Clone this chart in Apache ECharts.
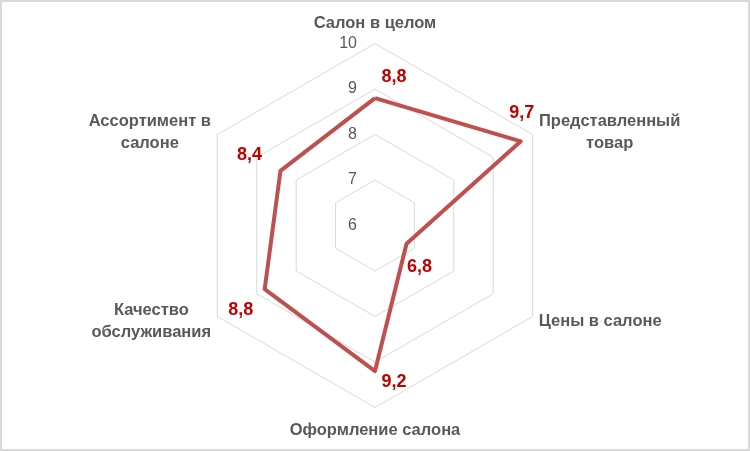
<!DOCTYPE html>
<html>
<head>
<meta charset="utf-8">
<script src="https://cdn.jsdelivr.net/npm/echarts@6/dist/echarts.min.js"></script>
<style>
  html, body { margin: 0; padding: 0; background: #fff; }
  #frame { width: 750px; height: 451px; box-sizing: border-box; border: 2px solid #d9d9d9; background: #fff; }
  #chart { width: 746px; height: 447px; }
</style>
</head>
<body>
<div id="frame"><div id="chart"></div></div>
<script>
// Categories in clockwise order starting from the top (as in the picture)
const categories = [
  'Салон в целом',
  'Представленный\nтовар',
  'Цены в салоне',
  'Оформление салона',
  'Качество\nобслуживания',
  'Ассортимент в\nсалоне'
];
const values = [8.8, 9.7, 6.8, 9.2, 8.8, 8.4];
const axisMin = 6;
const axisMax = 10;
const tickLabels = ['6', '7', '8', '9', '10'];

// Label offsets (px) for the value labels, clockwise from top
const labelOffsets = [[19, -21], [1, -28], [13, 23], [19, 11], [-24, 21], [-31, -16]];

// ECharts places indicators counter-clockwise; reorder to get a clockwise layout
const order = [0, 5, 4, 3, 2, 1];
const ecCategories = order.map(i => categories[i]);
const ecValues = order.map(i => values[i]);
const ecOffsets = order.map(i => labelOffsets[i]);

const nameSize = 16.5;
const nameFont = 'bold ' + nameSize + 'px "Liberation Sans", Arial, sans-serif';
const ctx = document.createElement('canvas').getContext('2d');
ctx.font = nameFont;
const rich = {};
ecCategories.forEach((c, i) => {
  const w = Math.max(...c.split('\n').map(l => ctx.measureText(l).width));
  rich['n' + i] = { width: Math.ceil(w), align: 'center', fontFamily: '"Liberation Sans", Arial, sans-serif', fontWeight: 'bold', fontSize: nameSize, color: '#595959', lineHeight: 22 };
});

const chart = echarts.init(document.getElementById('chart'), null, { renderer: 'canvas' });
const radius = 182;

const option = {
  animation: false,
  radar: {
    center: ['50%', '50%'],
    radius: radius,
    startAngle: 90,
    splitNumber: 4,
    shape: 'polygon',
    nameGap: 7,
    axisName: {
      color: '#595959',
      fontFamily: '"Liberation Sans", Arial, sans-serif',
      fontWeight: 'bold',
      fontSize: nameSize,
      padding: [5, 0, 2, 0],
      formatter: function (name) {
        const idx = ecCategories.indexOf(name);
        return name.split('\n').map(l => '{n' + idx + '|' + l + '}').join('\n');
      },
      rich: rich
    },
    axisLine: { show: false },
    axisTick: { show: false },
    splitLine: { lineStyle: { color: '#d9d9d9', width: 1 } },
    splitArea: { show: false },
    axisLabel: { show: false },
    indicator: ecCategories.map((c, i) => ({
      name: c,
      min: axisMin,
      max: axisMax,
      axisLabel: i === 0 ? {
        show: true,
        color: '#595959',
        fontFamily: '"Liberation Sans", Arial, sans-serif',
        fontSize: 16,
        margin: 18,
        showMinLabel: true,
        showMaxLabel: true,
        formatter: function (v) { return tickLabels[Math.round(v - axisMin)] || ''; }
      } : { show: false }
    }))
  },
  series: [{
    type: 'radar',
    symbol: 'circle',
    symbolSize: 1,
    itemStyle: { color: '#C0504D' },
    lineStyle: { color: '#C0504D', width: 4 },
    label: {
      show: true,
      position: 'inside',
      color: '#C00000',
      fontFamily: '"Liberation Sans", Arial, sans-serif',
      fontWeight: 'bold',
      fontSize: 18,
      formatter: function (p) { return String(p.value).replace('.', ','); }
    },
    labelLayout: function (p) {
      const cx = chart.getWidth() / 2, cy = chart.getHeight() / 2;
      const px = p.rect.x + p.rect.width / 2, py = p.rect.y + p.rect.height / 2;
      let ang = Math.atan2(cy - py, px - cx) * 180 / Math.PI;
      let k = Math.round((ang - 90) / 60);
      k = ((k % 6) + 6) % 6;
      const off = ecOffsets[k];
      return { dx: off[0], dy: off[1] };
    },
    data: [{ value: ecValues, name: 'Оценка' }]
  }]
};
chart.setOption(option);
</script>
</body>
</html>
